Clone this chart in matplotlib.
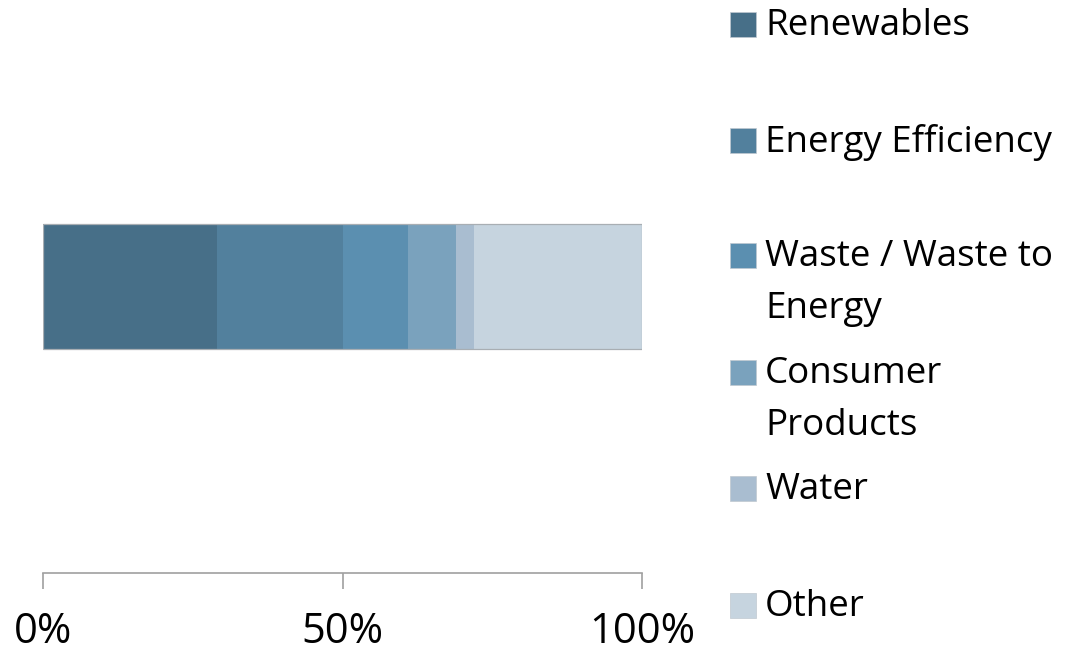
import matplotlib
matplotlib.use("Agg")
import matplotlib.pyplot as plt
from matplotlib.patches import Rectangle

categories = ["Renewables", "Energy Efficiency", "Waste / Waste to\nEnergy",
              "Consumer\nProducts", "Water", "Other"]
shares = [29, 21, 11, 8, 3, 28]
colors = ["#476f88", "#52809d", "#5b8fb0", "#7aa2bd", "#a9bdd0", "#c6d4df"]
tick_values = [0, 50, 100]
tick_labels = ["0%", "50%", "100%"]

plt.rcParams['font.family'] = ['Open Sans', 'DejaVu Sans']

W, H = 1082, 654
fig = plt.figure(figsize=(W / 100, H / 100), dpi=100)
ax = fig.add_axes([42.7 / W, (H - 573) / H, 599.6 / W, 573 / H])

left = 0
for val, col in zip(shares, colors):
    ax.barh(0, val, left=left, height=0.433, color=col, edgecolor='none')
    left += val
ax.barh(0, sum(shares), height=0.433, fill=False, edgecolor='#a8aeb3', linewidth=0.9)

ax.set_xlim(0, 100)
ax.set_ylim(-1, 1)
for s in ['top', 'right', 'left']:
    ax.spines[s].set_visible(False)
ax.spines['bottom'].set_color('#a0a0a0')
ax.spines['bottom'].set_linewidth(1.2)
ax.set_yticks([])
ax.set_xticks(tick_values)
ax.set_xticklabels(tick_labels, fontsize=30)
ax.tick_params(axis='x', direction='out', length=11.5, width=1.2, color='#a0a0a0', pad=16)

# legend drawn manually: square aligned with first text line
sq_tops = [11.7, 127.7, 242.7, 360, 476, 593]
sq = 25
for cat, col, top in zip(categories, colors, sq_tops):
    fig.add_artist(Rectangle((730 / W, (H - top - sq) / H), 26 / W, sq / H,
                             transform=fig.transFigure, facecolor=col,
                             edgecolor='#c0c8d0', linewidth=0.5))
    fig.text(765 / W, (H - top + 4) / H, cat, fontsize=26.5, va='top', ha='left',
             linespacing=1.6, color='black')

fig.savefig("out.png", dpi=100)
